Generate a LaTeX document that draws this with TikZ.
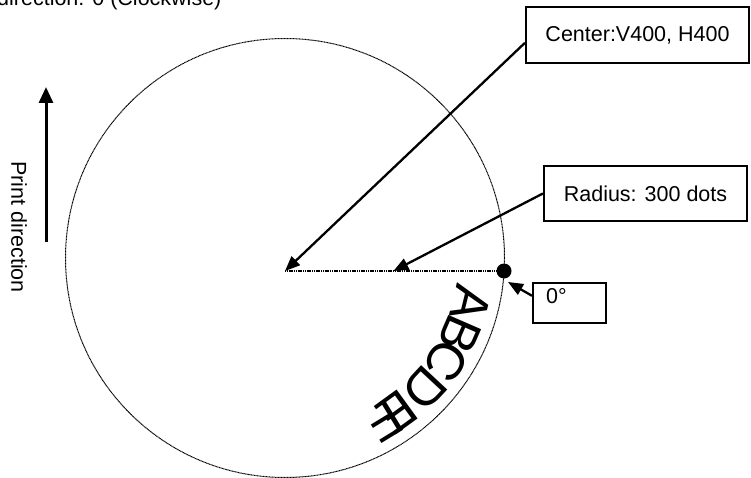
\documentclass[tikz,border=0pt]{standalone}
\usepackage{fontspec}
\setmainfont{Liberation Sans}
\usetikzlibrary{positioning, calc, arrows.meta}

\begin{document}
\begin{tikzpicture}[
        x=1pt, y=1pt,
        note/.style={font=\fontsize{21.5}{26}\selectfont},
        callout/.style={rectangle, draw=black, line width=2.2pt, fill=white, align=center, font=\fontsize{21.5}{26}\selectfont},
        pointer/.style={-{Triangle[length=15pt, width=12pt]}, line width=2.3pt},
        glyph/.style={font=\fontsize{52}{56}\selectfont, inner sep=0pt}
    ]
        \useasboundingbox (0,0) rectangle (751,477);

        \coordinate (MID) at (285,219);
        \coordinate (ORG) at (285,206);
        \draw[line width=1pt, dash pattern=on 1pt off 0.5pt] (MID) circle[radius=219.5];

        \node[circle, fill=black, minimum size=15pt, inner sep=0pt] (DOT) at (504,206) {};
        \draw[line width=2.5pt, dash pattern=on 1.2pt off 0.6pt] (ORG) -- (DOT.center);
        \coordinate (RADTIP) at ($(ORG)!0.495!(DOT.center)$);
        \coordinate (ZTIP) at (508,195);

        \node[callout, minimum width=223pt, minimum height=56pt] (CTR) at (637.5,442) {Center:V400, H400};
        \node[callout, minimum width=203pt, minimum height=55pt] (RAD) at (645.5,283.5) {Radius: 300 dots};
        \node[callout, anchor=north west, align=left, text width=47pt, inner xsep=13pt, inner ysep=5pt, text height=15pt, text depth=15pt] (ZERO) at (532,195) {0°};

        \draw[pointer] (CTR.184) -- (ORG);
        \draw[pointer] (RAD.west) -- (RADTIP);
        \draw[pointer] (ZERO.169) -- (ZTIP);

        % Print direction
        \coordinate (PDLOW) at (46,235);
        \coordinate (PDTOP) at (46,390);
        \draw[-{Triangle[length=16pt, width=14pt]}, line width=3pt] (PDLOW) -- (PDTOP);
        \node[note, rotate=-90] (PDTEXT) at (19,250) {Print direction};
        \node[note, anchor=base west, inner sep=0pt] (TITLE) at (-3,471) {direction: 0 (Clockwise)};

        % Text along the circle
        \foreach \ch/\ang in {A/13.8, B/23.5, C/32.5, D/43, E/54, F/58.5}
            \node[glyph, rotate={-90-\ang}] (L\ch) at ($(MID)+(-\ang:191)$) {\ch};
    \end{tikzpicture}
\end{document}
